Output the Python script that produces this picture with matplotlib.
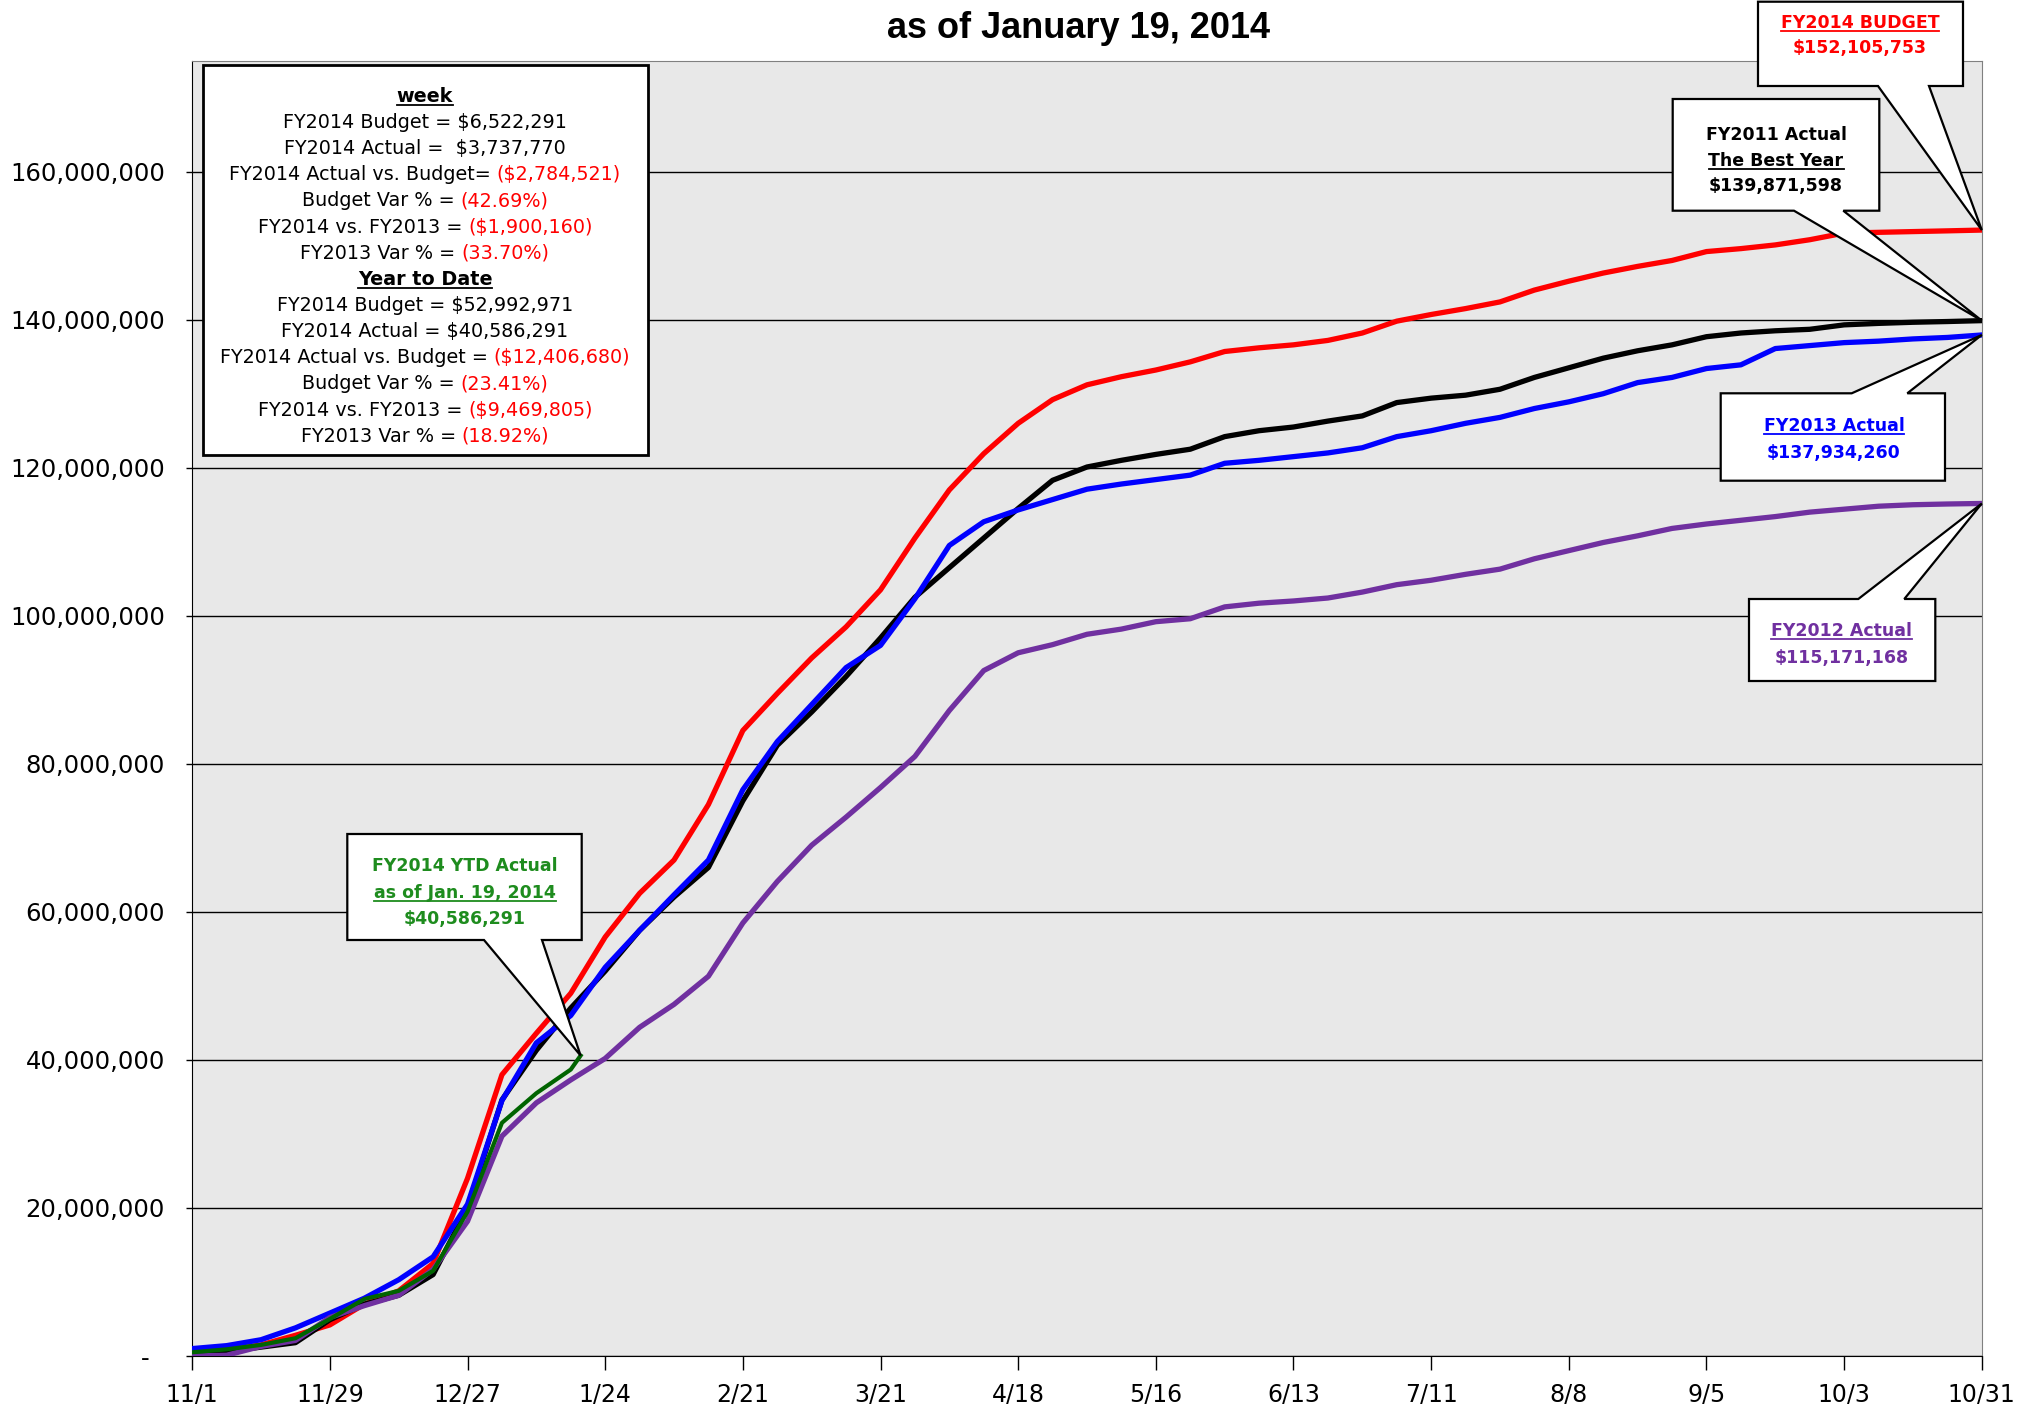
import matplotlib
matplotlib.use("Agg")
import matplotlib.pyplot as plt
from matplotlib.lines import Line2D
from matplotlib.patches import Polygon
from matplotlib.transforms import IdentityTransform
from matplotlib.ticker import FuncFormatter

W, H = 2023, 1404
PIX = IdentityTransform()

plt.rcParams["font.family"] = ["DejaVu Sans"]

TITLE = "as of January 19, 2014"

# days after 11/1, one reading per week
WEEK_DAY = list(range(0, 365, 7))
YTD_DAY = list(range(0, 78, 7)) + [79]

# cumulative totals, millions of dollars
BUDGET_2014 = [0.3, 0.8, 1.5, 2.8, 4.2, 7.0, 8.8, 12.5, 24.0, 38.0,
               43.6, 49.0, 56.6, 62.5, 67.0, 74.5, 84.5, 89.5, 94.3, 98.5,
               103.5, 110.5, 117.0, 121.9, 126.0, 129.2, 131.2, 132.3, 133.2, 134.3,
               135.7, 136.2, 136.6, 137.2, 138.2, 139.8, 140.7, 141.5, 142.4, 144.0,
               145.2, 146.3, 147.2, 148.0, 149.2, 149.6, 150.1, 150.8, 151.7, 151.8,
               151.9, 152.0, 152.105753]
ACTUAL_2011 = [0.2, 0.6, 1.2, 1.8, 4.9, 7.0, 8.2, 11.0, 20.0, 34.6,
               41.3, 47.0, 52.0, 57.5, 62.0, 66.0, 75.0, 82.5, 87.0, 91.8,
               97.0, 102.5, 106.5, 110.5, 114.5, 118.3, 120.1, 121.0, 121.8, 122.5,
               124.2, 125.0, 125.5, 126.3, 127.0, 128.8, 129.4, 129.8, 130.6, 132.2,
               133.5, 134.8, 135.8, 136.6, 137.7, 138.2, 138.5, 138.7, 139.3, 139.5,
               139.65, 139.75, 139.871598]
ACTUAL_2013 = [1.0, 1.4, 2.2, 3.8, 5.8, 7.8, 10.3, 13.4, 20.5, 34.5,
               42.3, 46.0, 52.5, 57.5, 62.3, 67.0, 76.5, 83.0, 88.0, 93.0,
               96.0, 102.3, 109.5, 112.7, 114.3, 115.7, 117.1, 117.8, 118.4, 119.0,
               120.6, 121.0, 121.5, 122.0, 122.7, 124.2, 125.0, 126.0, 126.8, 128.0,
               128.9, 130.0, 131.5, 132.2, 133.4, 133.9, 136.1, 136.5, 136.9, 137.1,
               137.4, 137.6, 137.93426]
ACTUAL_2012 = [0.0, 0.1, 1.3, 2.1, 5.2, 6.8, 8.2, 11.7, 18.2, 29.7,
               34.2, 37.3, 40.2, 44.4, 47.5, 51.3, 58.5, 64.1, 69.0, 72.8,
               76.8, 81.0, 87.2, 92.6, 95.0, 96.1, 97.5, 98.2, 99.2, 99.6,
               101.2, 101.7, 102.0, 102.4, 103.2, 104.2, 104.8, 105.6, 106.3, 107.7,
               108.8, 109.9, 110.8, 111.8, 112.4, 112.9, 113.4, 114.0, 114.4, 114.8,
               115.0, 115.1, 115.171168]
YTD_2014 = [0.5, 0.9, 1.5, 2.4, 5.0, 7.7, 8.8, 11.5, 19.5, 31.5,
            35.5, 38.7, 40.586291]

X_TICK_DAY = list(range(0, 365, 28))
X_TICK_LABELS = ["11/1", "11/29", "12/27", "1/24", "2/21", "3/21", "4/18",
                 "5/16", "6/13", "7/11", "8/8", "9/5", "10/3", "10/31"]
Y_TICKS = [0, 20e6, 40e6, 60e6, 80e6, 100e6, 120e6, 140e6, 160e6]

# summary box rows: (black part, red part)
WEEK_ROWS = [
    ("FY2014 Budget = $6,522,291", ""),
    ("FY2014 Actual =  $3,737,770", ""),
    ("FY2014 Actual vs. Budget=", "($2,784,521)"),
    ("Budget Var % =", "(42.69%)"),
    ("FY2014 vs. FY2013 =", "($1,900,160)"),
    ("FY2013 Var % =", "(33.70%)"),
]
YTD_ROWS = [
    ("FY2014 Budget = $52,992,971", ""),
    ("FY2014 Actual = $40,586,291", ""),
    ("FY2014 Actual vs. Budget =", "($12,406,680)"),
    ("Budget Var % =", "(23.41%)"),
    ("FY2014 vs. FY2013 =", "($9,469,805)"),
    ("FY2013 Var % =", "(18.92%)"),
]

RED, BLUE, PURPLE = "#FF0000", "#0000FF", "#7030A0"
GREEN_LINE, GREEN_TEXT = "#006400", "#1E8C1E"

fig = plt.figure(figsize=(W / 100, H / 100), dpi=100)
ax = fig.add_axes([192.2 / W, (H - 1356) / H, 1789.6 / W, (1356 - 60.6) / H])
ax.set_facecolor("#E8E8E8")

M = 1e6
ax.plot(WEEK_DAY, [v * M for v in BUDGET_2014], color=RED, lw=3.8, zorder=3)
ax.plot(WEEK_DAY, [v * M for v in ACTUAL_2011], color="black", lw=3.8, zorder=3)
ax.plot(WEEK_DAY, [v * M for v in ACTUAL_2013], color=BLUE, lw=3.8, zorder=3)
ax.plot(WEEK_DAY, [v * M for v in ACTUAL_2012], color=PURPLE, lw=3.8, zorder=3)
ax.plot(YTD_DAY, [v * M for v in YTD_2014], color=GREEN_LINE, lw=3.0, zorder=3)

ax.set_xlim(0, 364)
ax.set_ylim(0, 175e6)
ax.set_yticks(Y_TICKS)
ax.yaxis.set_major_formatter(FuncFormatter(lambda v, p: "-  " if v == 0 else f"{v:,.0f}"))
ax.set_xticks(X_TICK_DAY)
ax.set_xticklabels(X_TICK_LABELS)
ax.yaxis.grid(True, color="black", lw=1.0)
ax.set_axisbelow(True)
ax.tick_params(axis="y", direction="out", length=4.5, width=1, pad=15, labelsize=17.5)
ax.tick_params(axis="x", direction="out", length=10, width=1, pad=9, labelsize=17)
for side in ("top", "right"):
    ax.spines[side].set_color("#808080")
ax.spines["left"].set_color("black")
ax.spines["bottom"].set_color("black")

fig.text(1079 / W, 1 - 28.5 / H, TITLE, ha="center", va="center",
         fontsize=26, fontweight="bold", family=["Liberation Sans", "DejaVu Sans"])

renderer = fig.canvas.get_renderer()


def put(x, y, s, **kw):
    # x, y in reference pixels, y counted from the top
    return fig.text(x, H - y, s, transform=PIX, va="baseline", zorder=6, **kw)


def underline(t, color):
    bb = t.get_window_extent(renderer)
    yb = t.get_position()[1] - 3
    fig.add_artist(Line2D([bb.x0, bb.x1], [yb, yb], transform=PIX,
                          color=color, lw=1.3, zorder=6))


def tip_of(days, vals):
    return ax.transData.transform((days[-1], vals[-1] * M))


def bubble(box, base, tip, side):
    L, T, R, B = box
    p0, p1 = base
    if side == "bottom":
        pts = [(L, T), (R, T), (R, B), (p1, B), "tip", (p0, B), (L, B)]
    else:
        pts = [(L, T), (p0, T), "tip", (p1, T), (R, T), (R, B), (L, B)]
    verts = [tuple(tip) if p == "tip" else (p[0], H - p[1]) for p in pts]
    fig.add_artist(Polygon(verts, closed=True, transform=PIX, facecolor="white",
                           edgecolor="black", lw=1.6, zorder=5))


# summary box
fig.add_artist(Polygon([(202.6, H - 64.5), (647.7, H - 64.5), (647.7, H - 455.4),
                        (202.6, H - 455.4)], closed=True, transform=PIX,
                       facecolor="white", edgecolor="black", lw=2.0, zorder=5))

BOX_CX, BOX_Y0, BOX_STEP, FS = 425.0, 95.0, 26.15, 13.8
space = FS * 0.318 * 100 / 72
rows = [("week", None)] + WEEK_ROWS + [("Year to Date", None)] + YTD_ROWS
for i, (blk, red) in enumerate(rows):
    yb = BOX_Y0 + i * BOX_STEP + 6.8
    if red is None:
        t = put(BOX_CX, yb, blk, ha="center", fontsize=FS, fontweight="bold")
        underline(t, "black")
        continue
    tb = put(0, yb, blk, ha="left", fontsize=FS)
    wb = tb.get_window_extent(renderer).width
    if red:
        tr = put(0, yb, red, ha="left", fontsize=FS, color=RED)
        wr = tr.get_window_extent(renderer).width
        x0 = BOX_CX - (wb + space + wr) / 2
        tb.set_x(x0)
        tr.set_x(x0 + wb + space)
    else:
        tb.set_x(BOX_CX - wb / 2)

# callouts
CFS = 12.5
callouts = [
    ((1758, 1.7, 1963, 86), (1878, 1929), tip_of(WEEK_DAY, BUDGET_2014), "bottom", 1860,
     [("FY2014 BUDGET", RED, True, 21.7), ("$152,105,753", RED, False, 46.7)]),
    ((1672.7, 99, 1879.3, 210.7), (1794, 1843.3), tip_of(WEEK_DAY, ACTUAL_2011), "bottom", 1776,
     [("FY2011 Actual", "black", False, 133.3), ("The Best Year", "black", True, 159.3),
      ("$139,871,598", "black", False, 185)]),
    ((1720.7, 393.3, 1945, 480.7), (1851.7, 1907.3), tip_of(WEEK_DAY, ACTUAL_2013), "top", 1834,
     [("FY2013 Actual", BLUE, True, 425), ("$137,934,260", BLUE, False, 451.7)]),
    ((1749, 599, 1935.3, 681), (1858.3, 1904.3), tip_of(WEEK_DAY, ACTUAL_2012), "top", 1841.7,
     [("FY2012 Actual", PURPLE, True, 630), ("$115,171,168", PURPLE, False, 656.7)]),
    ((347.3, 834, 581.7, 940), (484, 542), tip_of(YTD_DAY, YTD_2014), "bottom", 465,
     [("FY2014 YTD Actual", GREEN_TEXT, False, 865), ("as of Jan. 19, 2014", GREEN_TEXT, True, 891.7),
      ("$40,586,291", GREEN_TEXT, False, 917.3)]),
]
for box, base, tip, side, cx, lines in callouts:
    bubble(box, base, tip, side)
    for s, col, ul, yc in lines:
        t = put(cx, yc + 6.3, s, ha="center", fontsize=CFS, fontweight="bold", color=col)
        if ul:
            underline(t, col)

fig.savefig("out.png", dpi=100)
